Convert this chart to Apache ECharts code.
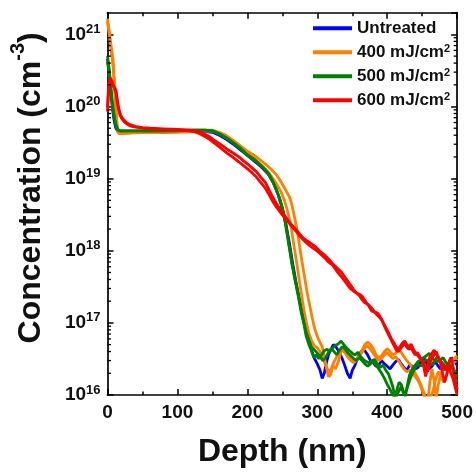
<!DOCTYPE html>
<html>
<head>
<meta charset="utf-8">
<script src="https://cdn.jsdelivr.net/npm/echarts@6/dist/echarts.min.js"></script>
<style>
  html, body { margin: 0; padding: 0; background: #fff; }
  #chart { width: 476px; height: 473px; }
</style>
</head>
<body>
<div id="chart"></div>
<script>
// SIMS depth profiles: [depth (nm), concentration (cm^-3)]
const seriesNames = ['Untreated', '400 mJ/cm2', '500 mJ/cm2', '600 mJ/cm2'];
const seriesColors = ['#0000ff', '#ff8000', '#008000', '#ff0000'];

const untreated = [
  [0,4.6e20],[2,3.2e20],[4,2.0e20],[6,1.2e20],[8,8.0e19],[10,6.0e19],[12,5.0e19],[15,4.5e19],[20,4.4e19],
  [30,4.4e19],[50,4.4e19],[80,4.4e19],[100,4.5e19],[120,4.5e19],[140,4.5e19],[150,4.4e19],[160,4.0e19],
  [170,3.5e19],[180,3.0e19],[190,2.5e19],[200,2.1e19],[210,1.75e19],[220,1.45e19],[230,1.15e19],[238,8.5e18],
  [244,6.0e18],[250,3.9e18],[255,2.4e18],[260,1.3e18],[265,6.5e17],[270,3.5e17],[275,2.0e17],[280,1.2e17],
  [284,8.0e16],[288,6.2e16],[292,4.1e16],[296,3.2e16],[300,2.7e16],[304,2.2e16],[307,1.7e16],[310,2.0e16],
  [313,2.8e16],[316,3.6e16],[319,4.2e16],[323,5.0e16],[327,4.6e16],[331,4.0e16],[335,3.3e16],[339,2.6e16],
  [343,2.0e16],[347,1.7e16],[350,2.2e16],[354,2.6e16],[358,3.3e16],[361,3.8e16],[365,4.2e16],[368,4.1e16],
  [372,3.6e16],[376,3.0e16],[380,2.8e16],[384,2.5e16],[388,2.6e16],[392,3.0e16],[396,2.7e16],[400,2.5e16],
  [404,2.3e16],[408,2.6e16],[412,2.9e16],[416,3.1e16],[420,2.7e16],[424,2.4e16],[428,2.2e16],[432,2.6e16],
  [436,2.5e16],[440,2.3e16],[444,2.4e16],[448,2.9e16],[452,3.3e16],[456,2.8e16],[460,2.3e16],[464,2.5e16],
  [468,2.9e16],[472,2.6e16],[476,2.3e16],[480,2.5e16],[484,2.4e16],[488,2.8e16],[492,3.3e16],[496,2.9e16],[500,2.6e16]
];

const laser400a = [
  [0,1.65e21],[2,1.2e21],[4,8.5e20],[6,6.0e20],[8,4.5e20],[10,2.2e20],[12,9.5e19],[14,5.2e19],[16,4.4e19],
  [18,4.2e19],[22,4.3e19],[40,4.4e19],[70,4.4e19],[100,4.5e19],[130,4.6e19],[150,4.7e19],[160,4.4e19],
  [170,3.95e19],[180,3.4e19],[190,2.85e19],[200,2.4e19],[210,2.1e19],[219,1.8e19],[227,1.55e19],[234,1.35e19],
  [241,1.15e19],[247,9.4e18],[252,7.8e18],[256,6.6e18],[260,5.6e18],[263,4.6e18],[266,3.4e18],[269,2.5e18],
  [272,1.7e18],[275,1.1e18],[278,7.2e17],[281,4.8e17],[284,3.2e17],[287,2.2e17],[290,1.6e17],[293,1.15e17],
  [296,8.5e16],[300,6.5e16],[304,5.3e16],[307,4.7e16],[310,3.4e16],[313,2.4e16],[316,1.8e16],[319,1.9e16],
  [322,2.6e16],[326,2.3e16],[330,2.9e16],[334,4.0e16],[337,4.6e16],[340,4.0e16],[344,3.5e16],[348,3.2e16],
  [352,2.9e16],[356,3.1e16],[360,3.4e16],[364,4.2e16],[368,5.0e16],[372,5.4e16],[376,5.0e16],[380,4.4e16],
  [384,3.6e16],[388,3.3e16],[392,3.5e16],[396,4.0e16],[400,4.4e16],[404,4.0e16],[408,3.6e16],[412,3.8e16],
  [416,4.3e16],[420,3.9e16],[424,3.4e16],[428,3.0e16],[432,2.7e16],[436,2.4e16],[440,2.0e16],[444,1.7e16],
  [448,1.4e16],[452,1.1e16],[455,0.9e16],[458,0.8e16],[461,1.5e16],[464,2.3e16],[467,1.6e16],[470,0.9e16],
  [473,1.4e16],[477,2.0e16],[481,2.4e16],[485,2.2e16],[489,2.6e16],[493,3.0e16],[497,3.3e16],[500,3.5e16]
];

const laser400b = [
  [0,1.5e21],[2,1.1e21],[4,7.5e20],[6,5.2e20],[8,3.6e20],[10,1.8e20],[12,8.0e19],[14,4.8e19],[16,4.2e19],
  [18,4.1e19],[22,4.2e19],[40,4.3e19],[70,4.4e19],[100,4.4e19],[130,4.5e19],[150,4.6e19],[160,4.25e19],
  [170,3.75e19],[180,3.2e19],[190,2.7e19],[200,2.25e19],[210,1.9e19],[220,1.55e19],[231,1.2e19],[240,9.0e18],
  [248,6.6e18],[253,5.0e18],[257,3.7e18],[260,2.8e18],[263,2.0e18],[266,1.3e18],[269,8.5e17],[272,5.5e17],
  [275,3.5e17],[278,2.3e17],[281,1.5e17],[284,1.05e17],[288,7.2e16],[292,5.6e16],[296,4.8e16],[300,4.5e16],
  [304,4.0e16],[308,3.2e16],[312,2.6e16],[316,2.1e16],[320,2.3e16],[324,2.9e16],[328,3.4e16],[332,3.8e16],
  [336,4.2e16],[340,3.8e16],[344,3.3e16],[348,3.0e16],[352,2.8e16],[356,3.0e16],[360,3.5e16],[364,3.9e16],
  [368,4.5e16],[372,4.8e16],[376,4.3e16],[380,3.8e16],[384,3.3e16],[388,3.0e16],[392,3.2e16],[396,3.6e16],
  [400,3.9e16],[404,3.5e16],[408,3.2e16],[412,3.4e16],[416,3.0e16],[420,2.6e16],[424,2.3e16],[428,2.1e16],
  [432,2.2e16],[436,2.0e16],[440,1.8e16],[444,1.6e16],[448,1.3e16],[452,1.0e16],[455,0.85e16],[460,0.8e16],
  [465,1.1e16],[469,1.6e16],[473,2.1e16],[477,1.8e16],[481,1.5e16],[485,1.9e16],[489,2.4e16],[493,2.7e16],
  [497,2.9e16],[500,3.2e16]
];

const laser500a = [
  [0,5.0e20],[2,3.6e20],[4,2.3e20],[6,1.4e20],[8,9.5e19],[10,7.0e19],[12,5.6e19],[15,4.8e19],[18,4.6e19],
  [25,4.6e19],[50,4.6e19],[80,4.6e19],[100,4.7e19],[120,4.7e19],[140,4.7e19],[150,4.6e19],[160,4.2e19],
  [170,3.7e19],[180,3.15e19],[190,2.65e19],[200,2.15e19],[210,1.85e19],[217,1.6e19],[225,1.35e19],[231,1.15e19],
  [236,9.3e18],[241,7.2e18],[246,5.3e18],[250,3.85e18],[254,2.5e18],[257,1.65e18],[260,1.1e18],[264,6.3e17],
  [268,4.0e17],[273,2.3e17],[277,1.4e17],[281,9.6e16],[284,6.6e16],[288,5.0e16],[292,4.0e16],[295,3.3e16],
  [298,3.6e16],[302,3.2e16],[306,3.6e16],[310,4.1e16],[314,4.3e16],[318,4.0e16],[322,4.5e16],[326,4.9e16],
  [330,5.1e16],[334,5.6e16],[338,5.0e16],[342,4.5e16],[346,4.1e16],[350,3.8e16],[354,3.6e16],[358,3.9e16],
  [362,3.4e16],[366,3.1e16],[370,2.9e16],[374,2.8e16],[378,3.0e16],[382,3.1e16],[386,2.7e16],[390,2.4e16],
  [394,2.6e16],[398,2.2e16],[402,1.95e16],[405,1.6e16],[408,1.3e16],[411,0.95e16],[414,1.2e16],[417,1.5e16],
  [420,1.4e16],[423,1.15e16],[426,0.95e16],[429,1.4e16],[432,1.9e16],[436,2.3e16],[440,2.6e16],[444,2.9e16],
  [448,3.1e16],[452,3.3e16],[456,3.5e16],[460,3.8e16],[464,3.3e16],[468,3.0e16],[472,2.9e16],[476,3.1e16],
  [480,3.3e16],[484,2.8e16],[488,2.6e16],[492,2.5e16],[496,2.2e16],[500,1.8e16]
];

const laser500b = [
  [0,4.2e20],[2,3.0e20],[4,2.0e20],[6,1.25e20],[8,8.8e19],[10,6.6e19],[12,5.4e19],[15,4.7e19],[18,4.6e19],
  [25,4.6e19],[50,4.6e19],[80,4.6e19],[100,4.6e19],[120,4.7e19],[140,4.7e19],[150,4.6e19],[160,4.15e19],
  [170,3.65e19],[180,3.1e19],[190,2.6e19],[200,2.1e19],[210,1.8e19],[217,1.58e19],[225,1.33e19],[231,1.13e19],
  [236,9.2e18],[241,7.2e18],[246,5.4e18],[250,3.95e18],[254,2.6e18],[257,1.75e18],[260,1.15e18],[264,6.6e17],
  [268,4.2e17],[273,2.4e17],[277,1.5e17],[281,1.0e17],[284,7.5e16],[288,5.8e16],[292,4.6e16],[296,4.2e16],
  [300,3.8e16],[304,3.4e16],[308,3.0e16],[312,3.3e16],[316,3.9e16],[320,4.4e16],[324,4.0e16],[328,3.6e16],
  [332,4.2e16],[336,4.7e16],[340,4.3e16],[344,3.8e16],[348,3.5e16],[352,3.2e16],[356,3.0e16],[360,3.3e16],
  [364,3.0e16],[368,2.7e16],[372,2.5e16],[376,2.7e16],[380,2.9e16],[384,2.6e16],[388,2.3e16],[392,2.0e16],
  [396,1.7e16],[400,1.4e16],[404,1.2e16],[408,1.0e16],[412,0.9e16],[416,1.1e16],[420,1.3e16],[424,1.0e16],
  [428,1.2e16],[432,1.6e16],[436,2.0e16],[440,2.4e16],[444,2.7e16],[448,2.5e16],[452,2.9e16],[456,3.1e16],
  [460,2.8e16],[464,2.6e16],[468,3.0e16],[472,3.4e16],[476,3.0e16],[480,2.7e16],[484,2.4e16],[488,2.2e16],
  [492,2.5e16],[496,1.9e16],[500,1.5e16]
];

const laser600a = [
  [0,9.6e19],[1,1.5e20],[2,2.1e20],[4,2.5e20],[6,2.3e20],[8,2.0e20],[10,1.9e20],[12,1.7e20],[14,1.25e20],
  [16,9.5e19],[18,8.0e19],[20,7.2e19],[24,6.4e19],[28,5.9e19],[32,5.6e19],[40,5.3e19],[50,5.1e19],[60,5.0e19],
  [80,4.9e19],[100,4.8e19],[117,4.7e19],[125,4.6e19],[132,4.45e19],[140,4.1e19],[146,3.8e19],[153,3.4e19],
  [160,3.05e19],[170,2.6e19],[180,2.25e19],[188,2.0e19],[195,1.75e19],[202,1.55e19],[207,1.4e19],[213,1.25e19],
  [219,1.05e19],[226,8.8e18],[231,7.0e18],[236,5.6e18],[241,4.6e18],[246,3.9e18],[250,3.4e18],[255,2.9e18],
  [260,2.5e18],[265,2.2e18],[270,1.95e18],[275,1.7e18],[280,1.5e18],[285,1.38e18],[290,1.28e18],[297,1.15e18],
  [303,1.0e18],[310,8.8e17],[316,7.7e17],[322,6.6e17],[328,5.8e17],[335,5.0e17],[341,4.1e17],[347,3.4e17],
  [352,2.9e17],[356,2.6e17],[360,2.4e17],[364,2.1e17],[368,1.9e17],[373,1.8e17],[378,1.6e17],[382,1.4e17],
  [387,1.25e17],[392,1.1e17],[397,9.0e16],[402,7.3e16],[406,6.0e16],[410,5.2e16],[413,4.6e16],[416,4.3e16],
  [419,4.8e16],[422,5.3e16],[425,5.6e16],[428,5.0e16],[431,4.6e16],[434,5.1e16],[437,4.4e16],[440,3.9e16],
  [443,3.6e16],[446,3.3e16],[449,3.2e16],[452,2.5e16],[455,1.8e16],[458,2.6e16],[461,3.4e16],[464,3.8e16],
  [467,4.2e16],[470,3.7e16],[473,3.4e16],[476,2.8e16],[479,2.0e16],[482,1.5e16],[485,1.9e16],[488,2.8e16],
  [491,3.3e16],[494,2.5e16],[497,1.6e16],[500,1.2e16]
];

const laser600b = [
  [0,8.5e19],[1,1.3e20],[2,1.9e20],[4,2.3e20],[6,2.2e20],[8,1.95e20],[10,1.85e20],[12,1.6e20],[14,1.15e20],
  [16,9.0e19],[18,7.6e19],[20,6.9e19],[24,6.1e19],[28,5.7e19],[32,5.4e19],[40,5.2e19],[50,5.0e19],[60,4.9e19],
  [80,4.8e19],[100,4.7e19],[117,4.6e19],[125,4.45e19],[132,4.2e19],[140,3.8e19],[146,3.5e19],[153,3.1e19],
  [160,2.75e19],[170,2.3e19],[180,1.95e19],[188,1.7e19],[195,1.5e19],[202,1.32e19],[207,1.2e19],[213,1.05e19],
  [219,8.9e18],[226,7.3e18],[231,6.0e18],[236,4.9e18],[241,4.1e18],[246,3.55e18],[250,3.15e18],[255,2.75e18],
  [260,2.4e18],[265,2.1e18],[270,1.85e18],[275,1.6e18],[280,1.42e18],[285,1.27e18],[290,1.16e18],[297,1.04e18],
  [303,9.3e17],[310,8.1e17],[316,7.0e17],[322,6.3e17],[328,5.2e17],[335,4.3e17],[341,3.6e17],[347,3.0e17],
  [352,2.75e17],[356,2.6e17],[360,2.5e17],[364,2.35e17],[368,2.05e17],[373,1.75e17],[378,1.45e17],[382,1.42e17],
  [387,1.35e17],[392,1.12e17],[397,8.6e16],[402,6.8e16],[406,5.7e16],[410,4.8e16],[413,4.2e16],[416,4.0e16],
  [419,4.4e16],[422,4.8e16],[425,5.2e16],[428,4.6e16],[431,4.3e16],[434,4.5e16],[437,4.0e16],[440,3.6e16],
  [443,3.9e16],[446,3.5e16],[449,3.0e16],[452,2.8e16],[455,2.3e16],[458,2.1e16],[461,2.8e16],[464,3.2e16],
  [467,3.6e16],[470,4.0e16],[473,3.3e16],[476,3.0e16],[479,2.6e16],[482,2.2e16],[485,2.6e16],[488,2.4e16],
  [491,2.0e16],[494,1.7e16],[497,1.3e16],[500,1.0e16]
];

// axis ranges and tick layout
const depthMin = 0, depthMax = 500, depthStep = 100;
const concMin = 1e16, concMax = 2e21;
const decadeExponents = [16, 17, 18, 19, 20];
const minorMultipliers = [2, 3, 4, 5, 6, 7, 8, 9];

const minorTickValues = [];
decadeExponents.forEach(e => minorMultipliers.forEach(m => minorTickValues.push([depthMin, m * Math.pow(10, e)])));

const FONT = '"Liberation Sans", Arial, sans-serif';
const AXIS_COLOR = '#000';

function lineSeries(name, data, color) {
  return {
    type: 'line', name: name, data: data, showSymbol: false, symbol: 'none',
    smooth: false, clip: true,
    lineStyle: { color: color, width: 2.8 },
    itemStyle: { color: color },
    emphasis: { disabled: true }
  };
}

const chart = echarts.init(document.getElementById('chart'), null, { renderer: 'canvas' });

const commonTickStyle = { color: AXIS_COLOR, width: 1.5 };

chart.setOption({
  animation: false,
  backgroundColor: '#fff',
  grid: { left: 107.4, right: 16.7, top: 12.7, bottom: 75, containLabel: false },
  legend: {
    data: seriesNames,
    orient: 'vertical',
    left: 308, top: 14.3,
    padding: 5,
    itemGap: 6,
    itemWidth: 39, itemHeight: 4,
    icon: 'rect',
    selectedMode: false,
    formatter: n => n.replace('cm2', 'cm{sup|2}'),
    textStyle: {
      fontFamily: FONT, fontWeight: 'bold', fontSize: 17, color: '#111', lineHeight: 18,
      rich: { sup: { fontFamily: FONT, fontWeight: 'bold', fontSize: 11, lineHeight: 11, verticalAlign: 'top', color: '#111' } }
    }
  },
  xAxis: [{
    type: 'value', position: 'bottom', min: depthMin, max: depthMax, interval: depthStep,
    name: 'Depth (nm)', nameLocation: 'middle', nameGap: 41,
    nameTextStyle: { fontFamily: FONT, fontWeight: 'bold', fontSize: 32, color: '#111' },
    axisLine: { show: true, onZero: false, lineStyle: { color: AXIS_COLOR, width: 1.7 } },
    axisTick: { show: true, inside: true, length: 6, lineStyle: commonTickStyle },
    minorTick: { show: true, splitNumber: 2, length: 3.5, lineStyle: commonTickStyle },
    axisLabel: { fontFamily: FONT, fontWeight: 'bold', fontSize: 19, color: '#111', margin: 8 },
    splitLine: { show: false }
  }, {
    type: 'value', position: 'top', min: depthMin, max: depthMax, interval: depthStep,
    axisLine: { show: true, onZero: false, lineStyle: { color: AXIS_COLOR, width: 1.7 } },
    axisTick: { show: true, inside: true, length: 6, lineStyle: commonTickStyle },
    minorTick: { show: true, splitNumber: 2, length: 3.5, lineStyle: commonTickStyle },
    axisLabel: { show: false },
    splitLine: { show: false }
  }],
  yAxis: [{
    type: 'log', logBase: 10, position: 'left', min: concMin, max: concMax,
    name: 'Concentration (cm{sup|-3})', nameLocation: 'middle', nameGap: 51,
    nameTextStyle: {
      fontFamily: FONT, fontWeight: 'bold', fontSize: 32, color: '#111', lineHeight: 46,
      padding: [0, 0, 0, 32],
      rich: { sup: { fontFamily: FONT, fontWeight: 'bold', fontSize: 20, lineHeight: 20, verticalAlign: 'top', color: '#111' } }
    },
    axisLine: { show: true, onZero: false, lineStyle: { color: AXIS_COLOR, width: 1.7 } },
    axisTick: { show: true, inside: true, length: 6, lineStyle: commonTickStyle },
    minorTick: { show: false },
    axisLabel: {
      fontFamily: FONT, fontWeight: 'bold', fontSize: 19, color: '#111', margin: 7, lineHeight: 23,
      showMaxLabel: false,
      formatter: v => '10{sup|' + Math.round(Math.log10(v)) + '}',
      rich: { sup: { fontFamily: FONT, fontWeight: 'bold', fontSize: 13, lineHeight: 13, verticalAlign: 'top', color: '#111' } }
    },
    splitLine: { show: false }
  }, {
    type: 'log', logBase: 10, position: 'right', min: concMin, max: concMax,
    axisLine: { show: true, onZero: false, lineStyle: { color: AXIS_COLOR, width: 1.7 } },
    axisTick: { show: true, inside: true, length: 6, lineStyle: commonTickStyle },
    axisLabel: { show: false },
    splitLine: { show: false }
  }],
  series: [
    lineSeries(seriesNames[0], untreated, seriesColors[0]),
    lineSeries(seriesNames[1], laser400a, seriesColors[1]),
    lineSeries(seriesNames[1], laser400b, seriesColors[1]),
    lineSeries(seriesNames[2], laser500a, seriesColors[2]),
    lineSeries(seriesNames[2], laser500b, seriesColors[2]),
    lineSeries(seriesNames[3], laser600a, seriesColors[3]),
    lineSeries(seriesNames[3], laser600b, seriesColors[3]),
    {
      // minor log ticks on the left and right frame edges
      type: 'custom', name: 'minorTicks', silent: true, clip: false, z: 5,
      xAxisIndex: 0, yAxisIndex: 0,
      data: minorTickValues,
      encode: { x: 0, y: 1 },
      renderItem: (params, api) => {
        const v = api.value(1);
        const l = api.coord([depthMin, v]);
        const r = api.coord([depthMax, v]);
        return {
          type: 'group',
          children: [
            { type: 'line', shape: { x1: l[0], y1: l[1], x2: l[0] + 3.5, y2: l[1] }, style: { stroke: AXIS_COLOR, lineWidth: 1.3 } },
            { type: 'line', shape: { x1: r[0] - 3.5, y1: r[1], x2: r[0], y2: r[1] }, style: { stroke: AXIS_COLOR, lineWidth: 1.3 } }
          ]
        };
      }
    }
  ]
});
</script>
</body>
</html>
